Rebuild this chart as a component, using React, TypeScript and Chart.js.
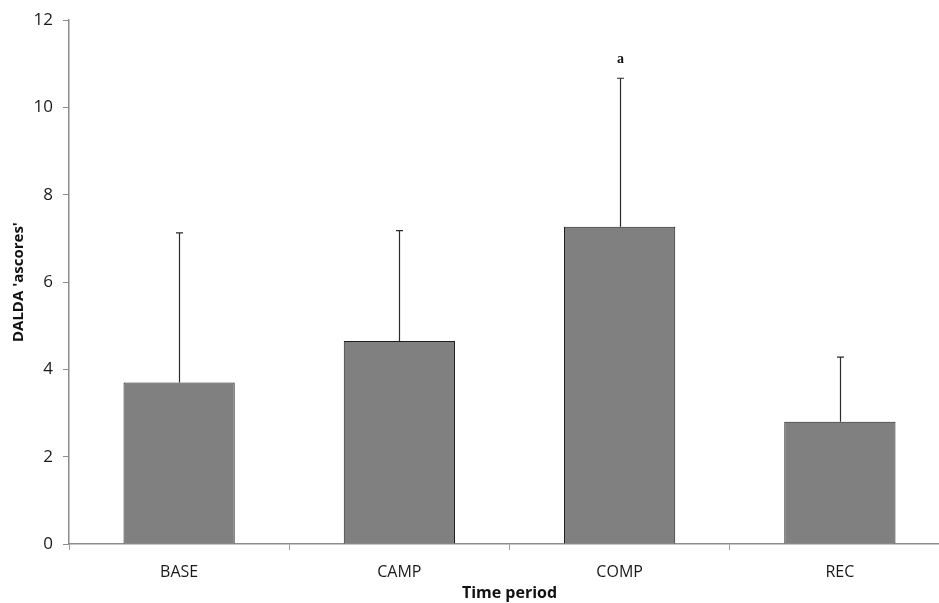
import React, { useEffect, useRef } from "react";
import { Chart, registerables } from "chart.js";

Chart.register(...registerables);

const categories = ["BASE", "CAMP", "COMP", "REC"];
const meanValues = [3.7, 4.65, 7.27, 2.8];
const errorTops = [7.13, 7.18, 10.67, 4.28];
const markLabels = ["", "", "a", ""];
const yTicks = [0, 2, 4, 6, 8, 10, 12];

const errorBarPlugin = {
  id: "errorBars",
  afterDatasetsDraw(chart: any) {
    const { ctx } = chart;
    const meta = chart.getDatasetMeta(0);
    const y = chart.scales.y;
    ctx.save();
    meta.data.forEach((bar: any, i: number) => {
      const x = Math.round(bar.x) + 0.5;
      const yTop = y.getPixelForValue(errorTops[i]);
      const yBase = y.getPixelForValue(meanValues[i]);
      ctx.strokeStyle = "#2b2b2b";
      ctx.lineWidth = 1.2;
      ctx.beginPath();
      ctx.moveTo(x, yBase);
      ctx.lineTo(x, yTop);
      ctx.moveTo(x - 3.5, yTop);
      ctx.lineTo(x + 3.5, yTop);
      ctx.stroke();
      if (markLabels[i]) {
        ctx.fillStyle = "#111";
        ctx.font = "bold 14px 'Liberation Serif', serif";
        ctx.textAlign = "center";
        ctx.textBaseline = "bottom";
        ctx.fillText(markLabels[i], x, yTop - 12);
      }
    });
    ctx.restore();
  },
};

export default function App() {
  const ref = useRef<HTMLCanvasElement>(null);
  useEffect(() => {
    const c = ref.current;
    if (!c) return;
    const chart = new Chart(c, {
      type: "bar",
      data: {
        labels: categories,
        datasets: [
          {
            data: meanValues,
            backgroundColor: "#808080",
            borderColor: "#1e1e1e",
            borderWidth: 1,
            barPercentage: 0.505,
            categoryPercentage: 1,
          },
        ],
      },
      plugins: [errorBarPlugin],
      options: {
        animation: false,
        responsive: false,
        devicePixelRatio: 1,
        layout: { padding: { top: 19, left: 10, right: 10, bottom: 0 } },
        plugins: { legend: { display: false }, tooltip: { enabled: false } },
        scales: {
          x: {
            offset: true,
            grid: {
              offset: true,
              drawOnChartArea: false,
              drawTicks: true,
              tickLength: 6,
              color: "#a0a0a0",
            },
            border: { color: "#8c8c8c", width: 1.5 },
            ticks: {
              color: "#1a1a1a",
              font: { family: "'Open Sans', sans-serif", size: 16 },
              padding: 13,
            },
            title: {
              display: true,
              text: "Time period",
              color: "#111",
              font: { family: "'Open Sans', sans-serif", size: 16, weight: "bold" },
              padding: { top: 2, bottom: 0 },
            },
            afterFit(scale: any) {
              scale.height = 59;
            },
          },
          y: {
            min: 0,
            max: 12,
            afterBuildTicks(scale: any) {
              scale.ticks = yTicks.map((v) => ({ value: v }));
            },
            grid: {
              drawOnChartArea: false,
              drawTicks: true,
              tickLength: 6,
              color: "#8c8c8c",
            },
            border: { color: "#8c8c8c", width: 1.5 },
            ticks: {
              color: "#1a1a1a",
              font: { family: "'Open Sans', sans-serif", size: 17 },
              padding: 10,
            },
            title: {
              display: true,
              text: "DALDA 'ascores'",
              color: "#111",
              font: { family: "'Open Sans', sans-serif", size: 15, weight: "bold" },
              padding: { top: 0, bottom: 8 },
            },
            afterFit(scale: any) {
              scale.width = 59;
            },
          },
        },
      },
    });
    return () => chart.destroy();
  }, []);
  return (
    <div
      style={{
        position: "absolute",
        left: 0,
        top: 0,
        width: 939,
        height: 603,
        overflow: "hidden",
        background: "#fff",
      }}
    >
      <canvas ref={ref} width={960} height={603} style={{ display: "block" }} />
    </div>
  );
}
